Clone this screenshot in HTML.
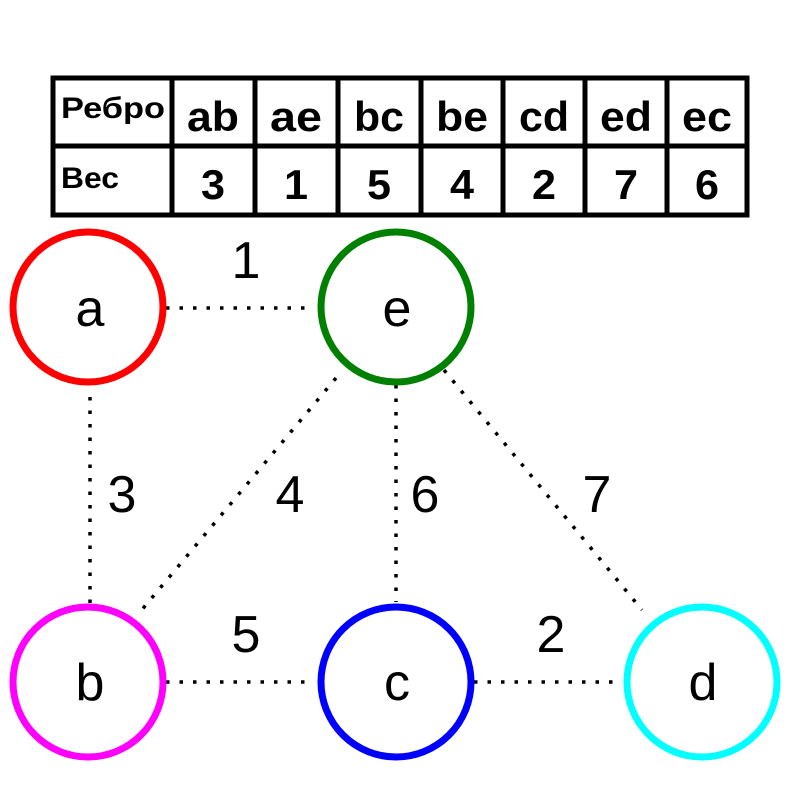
<!DOCTYPE html>
<html><head><meta charset="utf-8"><style>
body{margin:0;background:#fff;width:800px;height:800px;overflow:hidden}
</style></head><body>
<svg width="800" height="800" xmlns="http://www.w3.org/2000/svg" font-family="'Liberation Sans', 'DejaVu Sans', sans-serif">
<rect x="0" y="0" width="800" height="800" fill="#fff"/>
<g stroke="#000" stroke-width="5" fill="none">
<rect x="53" y="78" width="694" height="137"/>
<line x1="53" y1="146" x2="747" y2="146"/>
<line x1="172" y1="78" x2="172" y2="215"/>
<line x1="255" y1="78" x2="255" y2="215"/>
<line x1="338" y1="78" x2="338" y2="215"/>
<line x1="421" y1="78" x2="421" y2="215"/>
<line x1="503" y1="78" x2="503" y2="215"/>
<line x1="585" y1="78" x2="585" y2="215"/>
<line x1="667" y1="78" x2="667" y2="215"/>
</g>
<g font-weight="bold" fill="#000">
<text x="61" y="118" font-size="30" textLength="104" lengthAdjust="spacingAndGlyphs">Ребро</text>
<text x="61" y="188" font-size="30" textLength="58" lengthAdjust="spacingAndGlyphs">Вес</text>
<g font-size="42" text-anchor="middle" lengthAdjust="spacingAndGlyphs">
<text x="213" y="131" textLength="52" lengthAdjust="spacingAndGlyphs">ab</text><text x="296" y="131" textLength="52" lengthAdjust="spacingAndGlyphs">ae</text><text x="379" y="131" textLength="50" lengthAdjust="spacingAndGlyphs">bc</text>
<text x="462" y="131" textLength="52" lengthAdjust="spacingAndGlyphs">be</text><text x="544" y="131" textLength="50" lengthAdjust="spacingAndGlyphs">cd</text><text x="626" y="131" textLength="52" lengthAdjust="spacingAndGlyphs">ed</text><text x="707" y="131" textLength="50" lengthAdjust="spacingAndGlyphs">ec</text>
<text x="213" y="199" textLength="24" lengthAdjust="spacingAndGlyphs">3</text><text x="296" y="199" textLength="24" lengthAdjust="spacingAndGlyphs">1</text><text x="379" y="199" textLength="24" lengthAdjust="spacingAndGlyphs">5</text>
<text x="462" y="199" textLength="24" lengthAdjust="spacingAndGlyphs">4</text><text x="544" y="199" textLength="24" lengthAdjust="spacingAndGlyphs">2</text><text x="626" y="199" textLength="24" lengthAdjust="spacingAndGlyphs">7</text><text x="707" y="199" textLength="24" lengthAdjust="spacingAndGlyphs">6</text>
</g></g>
<g stroke="#000" stroke-width="3.5" stroke-dasharray="3.5 10" fill="none">
<line x1="166" y1="308" x2="305" y2="308"/>
<line x1="90" y1="397" x2="90" y2="606"/>
<line x1="336" y1="378" x2="140" y2="612"/>
<line x1="396" y1="385" x2="396" y2="602"/>
<line x1="444" y1="370" x2="642" y2="610"/>
<line x1="166" y1="682" x2="305" y2="682"/>
<line x1="474" y1="682" x2="615" y2="682"/>
</g>
<g stroke-width="7" fill="none">
<circle cx="88" cy="307" r="75" stroke="#ff0000"/>
<circle cx="396" cy="307" r="75" stroke="#008000"/>
<circle cx="88" cy="682" r="75" stroke="#ff00ff"/>
<circle cx="396" cy="682" r="75" stroke="#0000ff"/>
<circle cx="702" cy="682" r="75" stroke="#00ffff"/>
</g>
<g font-size="52" text-anchor="middle" fill="#000">
<text x="90" y="326">a</text><text x="397" y="326">e</text>
<text x="90" y="700">b</text><text x="397" y="700">c</text><text x="703" y="700">d</text>
</g>
<g font-size="52" text-anchor="middle" fill="#000">
<text x="246" y="278">1</text><text x="122" y="512">3</text><text x="290" y="512">4</text>
<text x="425" y="512">6</text><text x="597" y="512">7</text>
<text x="246" y="652">5</text><text x="551" y="652">2</text>
</g>
</svg>
</body></html>
